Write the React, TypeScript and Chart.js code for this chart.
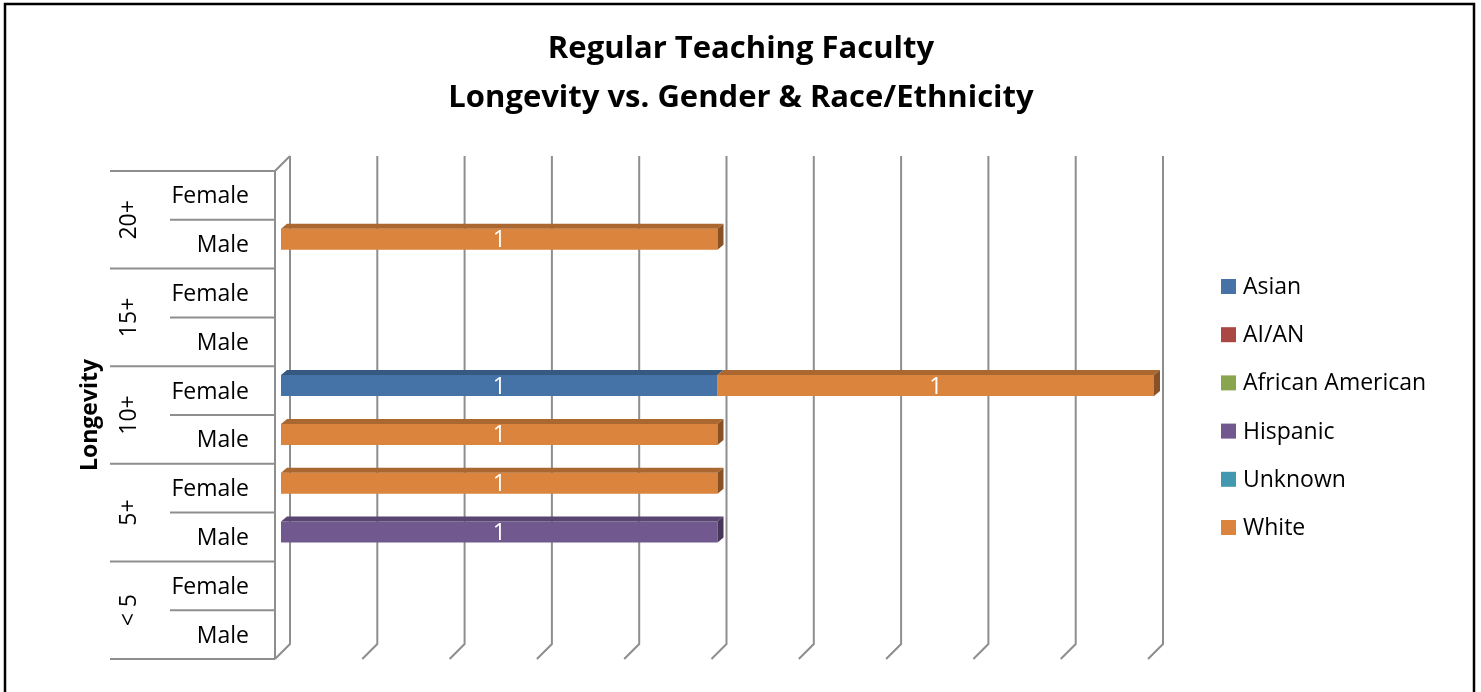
import { useEffect, useRef } from "react";
import { Chart, registerables } from "chart.js";

Chart.register(...registerables);

const TITLE_LINES = ["Regular Teaching Faculty", "Longevity vs. Gender & Race/Ethnicity"];
const AXIS_TITLE = "Longevity";
const GROUPS = ["20+", "15+", "10+", "5+", "< 5"];
const GENDERS = ["Female", "Male"];
const X_TICKS = [0, 0.2, 0.4, 0.6, 0.8, 1.0, 1.2, 1.4, 1.6, 1.8, 2.0];

const SERIES_NAMES = ["Asian", "AI/AN", "African American", "Hispanic", "Unknown", "White"];
const SERIES_COLORS = ["#4572A7", "#AA4643", "#89A54E", "#71588F", "#4198AF", "#DB843D"];

// order: 20+ F, 20+ M, 15+ F, 15+ M, 10+ F, 10+ M, 5+ F, 5+ M, <5 F, <5 M
const asian = [null, null, null, null, 1, null, null, null, null, null];
const aiAn = [null, null, null, null, null, null, null, null, null, null];
const africanAmerican = [null, null, null, null, null, null, null, null, null, null];
const hispanic = [null, null, null, null, null, null, null, 1, null, null];
const unknown = [null, null, null, null, null, null, null, null, null, null];
const white = [null, 1, null, null, 1, 1, 1, null, null, null];
const SERIES_VALUES = [asian, aiAn, africanAmerican, hispanic, unknown, white];

const FONT = "'Open Sans', 'DejaVu Sans', sans-serif";
const LINE = "#8E8E8E";

const DEPTH_X = 6, DEPTH_Y = 5;      // bar depth
const FRONT_DX = -6, FRONT_DY = 5;   // bar plane -> front plane
const BACK_DX = 9, BACK_DY = -10;    // bar plane -> back plane

function shade(hex: string, f: number) {
  const n = parseInt(hex.slice(1), 16);
  const r = Math.round(((n >> 16) & 255) * f);
  const g = Math.round(((n >> 8) & 255) * f);
  const b = Math.round((n & 255) * f);
  return `rgb(${r},${g},${b})`;
}

const decorPlugin = {
  id: "decor",
  beforeDraw(chart: any) {
    const ctx = chart.ctx as CanvasRenderingContext2D;
    ctx.save();
    ctx.fillStyle = "#ffffff";
    ctx.fillRect(0, 0, chart.width, chart.height);
    ctx.strokeStyle = "#000000";
    ctx.lineWidth = 2.5;
    ctx.strokeRect(5, 4, 1469, 740);
    ctx.fillStyle = "#000000";
    ctx.font = `bold 31px ${FONT}`;
    ctx.textAlign = "center";
    ctx.textBaseline = "middle";
    TITLE_LINES.forEach((t, i) => ctx.fillText(t, 741, 49 + i * 49));
    ctx.restore();
  },
  beforeDatasetsDraw(chart: any) {
    const ctx = chart.ctx as CanvasRenderingContext2D;
    const area = chart.chartArea;
    const xs = chart.scales.x;
    const ys = chart.scales.y;
    const n = chart.data.labels.length;
    const rowH = (area.bottom - area.top) / n;
    const frontTop = area.top + FRONT_DY;
    const frontBottom = area.bottom + FRONT_DY;
    const backTop = area.top + BACK_DY;
    const backBottom = area.bottom + BACK_DY;
    ctx.save();
    ctx.strokeStyle = LINE;
    ctx.lineWidth = 2;
    ctx.lineCap = "butt";
    // gridlines on back wall + floor diagonals
    X_TICKS.forEach((v) => {
      const px = xs.getPixelForValue(v);
      ctx.beginPath();
      ctx.moveTo(px + BACK_DX, backTop);
      ctx.lineTo(px + BACK_DX, backBottom);
      ctx.lineTo(px + FRONT_DX, frontBottom);
      ctx.stroke();
    });
    // left wall front edge
    const x0 = xs.getPixelForValue(X_TICKS[0]);
    ctx.beginPath();
    ctx.moveTo(x0 + BACK_DX, backTop);
    ctx.lineTo(x0 + FRONT_DX, frontTop);
    ctx.lineTo(x0 + FRONT_DX, frontBottom);
    ctx.stroke();
    // row separators
    for (let b = 0; b <= n; b++) {
      const y = area.top + b * rowH + FRONT_DY;
      const startX = b % GENDERS.length === 0 ? 110 : 170;
      ctx.beginPath();
      ctx.moveTo(startX, y);
      ctx.lineTo(x0 + FRONT_DX, y);
      ctx.stroke();
    }
    // gender labels
    ctx.fillStyle = "#000000";
    ctx.font = `23px ${FONT}`;
    ctx.textAlign = "right";
    ctx.textBaseline = "middle";
    for (let i = 0; i < n; i++) {
      const y = ys.getPixelForValue(i) + FRONT_DY + 1.5;
      ctx.fillText(GENDERS[i % GENDERS.length], 249, y);
    }
    // group labels (rotated)
    ctx.textAlign = "center";
    GROUPS.forEach((g, gi) => {
      const a = ys.getPixelForValue(gi * GENDERS.length);
      const b = ys.getPixelForValue(gi * GENDERS.length + GENDERS.length - 1);
      const y = (a + b) / 2 + FRONT_DY;
      ctx.save();
      ctx.translate(129, y);
      ctx.rotate(-Math.PI / 2);
      ctx.fillText(g, 0, 0);
      ctx.restore();
    });
    // axis title
    ctx.font = `bold 23px ${FONT}`;
    ctx.save();
    ctx.translate(90, (frontTop + frontBottom) / 2);
    ctx.rotate(-Math.PI / 2);
    ctx.fillText(AXIS_TITLE, 0, 0);
    ctx.restore();
    ctx.restore();
  },
  afterDatasetsDraw(chart: any) {
    const ctx = chart.ctx as CanvasRenderingContext2D;
    const nds = chart.data.datasets.length;
    ctx.save();
    const labelsToDraw: { x: number; y: number; t: string }[] = [];
    for (let d = 0; d < nds; d++) {
      const meta = chart.getDatasetMeta(d);
      const ds = chart.data.datasets[d];
      meta.data.forEach((el: any, i: number) => {
        const v = ds.data[i];
        if (v === null || v === undefined || v === 0) return;
        const { x, y, base, height } = el.getProps(["x", "y", "base", "height"], true);
        const left = Math.min(x, base);
        const right = Math.max(x, base);
        const top = y - height / 2;
        const bottom = y + height / 2;
        const color = SERIES_COLORS[d];
        ctx.fillStyle = shade(color, 0.78);
        ctx.beginPath();
        ctx.moveTo(left, top);
        ctx.lineTo(right, top);
        ctx.lineTo(right + DEPTH_X, top - DEPTH_Y);
        ctx.lineTo(left + DEPTH_X, top - DEPTH_Y);
        ctx.closePath();
        ctx.fill();
        let isLast = true;
        for (let k = d + 1; k < nds; k++) {
          const w = chart.data.datasets[k].data[i];
          if (w !== null && w !== undefined && w !== 0) isLast = false;
        }
        if (isLast) {
          ctx.fillStyle = shade(color, 0.62);
          ctx.beginPath();
          ctx.moveTo(right, top);
          ctx.lineTo(right + DEPTH_X, top - DEPTH_Y);
          ctx.lineTo(right + DEPTH_X, bottom - DEPTH_Y);
          ctx.lineTo(right, bottom);
          ctx.closePath();
          ctx.fill();
        }
        labelsToDraw.push({ x: (left + right) / 2, y: y + 1.5, t: String(v) });
      });
    }
    ctx.fillStyle = "#ffffff";
    ctx.font = `23px ${FONT}`;
    ctx.textAlign = "center";
    ctx.textBaseline = "middle";
    labelsToDraw.forEach((l) => ctx.fillText(l.t, l.x, l.y));
    ctx.restore();
  },
  afterDraw(chart: any) {
    const ctx = chart.ctx as CanvasRenderingContext2D;
    ctx.save();
    ctx.font = `23px ${FONT}`;
    ctx.textAlign = "left";
    ctx.textBaseline = "middle";
    chart.data.datasets.forEach((ds: any, i: number) => {
      const y = 286.5 + i * 48.2;
      ctx.fillStyle = ds.backgroundColor;
      ctx.fillRect(1221, y - 7.5, 15, 15);
      ctx.fillStyle = "#000000";
      ctx.fillText(ds.label, 1243, y + 1);
    });
    ctx.restore();
  },
};

export default function App() {
  const ref = useRef<HTMLCanvasElement>(null);
  useEffect(() => {
    if (!ref.current) return;
    const labels = GROUPS.flatMap((g) => GENDERS.map((s) => `${g} ${s}`));
    const chart = new Chart(ref.current, {
      type: "bar",
      data: {
        labels,
        datasets: SERIES_NAMES.map((name, i) => ({
          label: name,
          data: SERIES_VALUES[i] as any,
          backgroundColor: SERIES_COLORS[i],
          borderWidth: 0,
          barPercentage: 0.43,
          categoryPercentage: 1,
        })),
      },
      options: {
        indexAxis: "y",
        animation: false,
        responsive: false,
        devicePixelRatio: 1,
        layout: { padding: { left: 281, right: 327, top: 166, bottom: 38 } },
        scales: {
          x: { stacked: true, min: 0, max: 2, display: false, ticks: { stepSize: 0.2 } },
          y: { stacked: true, display: false },
        },
        plugins: {
          legend: { display: false },
          title: { display: false },
          tooltip: { enabled: false },
        },
      },
      plugins: [decorPlugin],
    });
    return () => chart.destroy();
  }, []);
  return (
    <div style={{ position: "fixed", left: 0, top: 0, width: 1481, height: 692, background: "#fff" }}>
      <canvas ref={ref} width={1481} height={692} style={{ display: "block" }} />
    </div>
  );
}
